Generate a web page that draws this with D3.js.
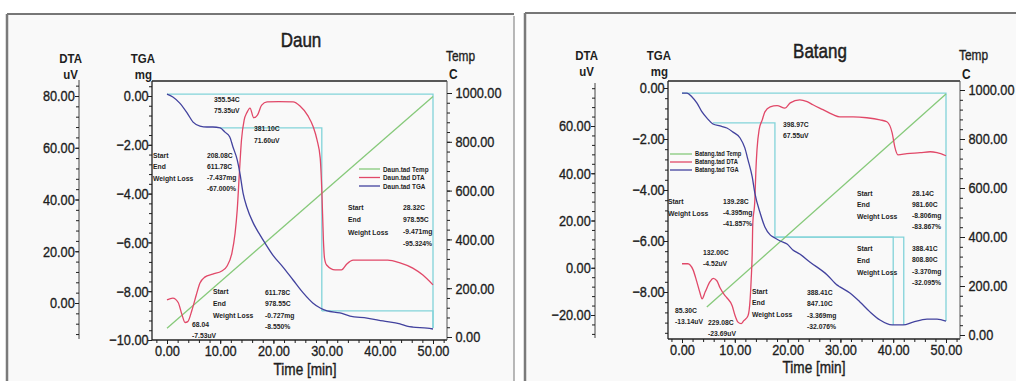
<!DOCTYPE html>
<html>
<head>
<meta charset="utf-8">
<script src="https://cdn.jsdelivr.net/npm/d3@7"></script>
<style>
  html, body { margin: 0; padding: 0; background: #ffffff; }
  svg { display: block; }
</style>
</head>
<body>
<svg id="chart" width="1016" height="381"></svg>
<script>
// ---------- tick values ----------
const timeTicks = [0, 10, 20, 30, 40, 50];
const tempTicks = [0, 200, 400, 600, 800, 1000];
const daunDtaTicks = [0, 20, 40, 60, 80];
const daunTgaTicks = [-10, -8, -6, -4, -2, 0];
const batangDtaTicks = [-20, 0, 20, 40, 60];
const batangTgaTicks = [-8, -6, -4, -2, 0];

// ---------- Daun: [time min, value] ----------
const daunTemp = [[0, 36], [50, 986]];
const daunDTA = [
  [0, 1.2], [1.1, 1.9], [2.1, 0.2], [2.8, -4.4], [3.4, -7.53], [3.9, -7.2], [4.7, -2.7],
  [5.5, 3.1], [6.2, 7.7], [7.1, 10.0], [8.6, 11.2], [10.3, 12.4], [11.3, 14.3], [12.2, 19.3],
  [12.8, 27.0], [13.2, 36.0], [13.6, 50.0], [14.0, 63.0], [14.5, 70.7], [15.0, 73.5],
  [15.6, 75.35], [16.3, 71.6], [17.0, 72.6], [17.8, 76.5], [18.8, 77.7], [21.0, 77.8],
  [23.7, 77.7], [25.0, 76.1], [26.5, 72.3], [27.5, 68.0], [28.2, 63.0], [28.8, 56.0],
  [29.1, 43.7], [29.4, 24.3], [29.6, 17.4], [30.0, 14.7], [31.6, 12.8], [32.8, 12.8],
  [33.8, 15.1], [35.0, 16.6], [38.8, 16.6], [41.5, 16.6], [43.8, 15.5], [46.2, 13.5],
  [48.1, 10.8], [50, 7.0]
];
const daunTGA = [
  [0, 0.08], [1.1, -0.04], [2.4, -0.29], [3.8, -0.70], [4.9, -1.07], [6.2, -1.23],
  [7.5, -1.27], [8.6, -1.27], [10.0, -1.31], [10.9, -1.48], [11.8, -1.68], [12.4, -2.09],
  [13.2, -2.62], [13.7, -3.16], [14.3, -3.98], [15.0, -4.55], [16.2, -5.20], [17.5, -5.70],
  [18.4, -6.02], [19.9, -6.52], [21.8, -7.01], [23.7, -7.54], [25.6, -8.07], [27.4, -8.48],
  [28.8, -8.69], [30.1, -8.81], [32.5, -8.89], [34.4, -9.02], [37.6, -9.10], [40.6, -9.22],
  [43.8, -9.34], [45.1, -9.43], [46.2, -9.47], [48.9, -9.51], [50, -9.55]
];
// weight-loss steps: [start min, end min, start mg, end mg]
const daunSteps = [[0, 50, 0.08, -9.51], [9.96, 29.1, -1.31, -8.81], [29.1, 50, -8.81, -9.51]];

// ---------- Batang: [time min, value] ----------
const batangTemp = [[4.7, 114], [50, 984]];
const batangDTA = [
  [0, 1.7], [1.1, 1.7], [2.1, -0.9], [2.8, -5.9], [3.4, -10.6], [3.8, -13.14], [4.4, -10.2],
  [5.3, -5.9], [5.9, -4.52], [6.6, -5.5], [7.2, -8.5], [8.0, -11.4], [8.5, -12.7],
  [9.5, -16.1], [10.0, -19.9], [10.6, -23.0], [11.2, -23.69], [11.7, -22.4], [12.5, -20.3],
  [12.9, -13.5], [13.1, -5.1], [13.3, 6.3], [13.4, 18.2], [13.8, 28.8], [14.0, 41.5],
  [14.2, 49.9], [14.6, 58.4], [15.2, 62.6], [15.7, 66.0], [16.7, 68.1], [18.0, 68.6],
  [19.5, 67.55], [20.5, 69.8], [22.3, 71.1], [23.7, 70.3], [24.8, 69.0], [26.7, 66.9],
  [28.6, 64.8], [29.9, 63.9], [32.4, 63.9], [35.0, 63.5], [37.5, 62.6], [38.8, 61.8],
  [39.8, 57.1], [40.3, 51.2], [40.9, 47.8], [42.6, 48.3], [45.1, 48.7], [47.0, 49.1],
  [48.3, 48.7], [50, 47.4]
];
const batangTGA = [
  [0, -0.20], [0.95, -0.20], [1.9, -0.35], [2.84, -0.59], [3.79, -0.94], [4.73, -1.18],
  [5.87, -1.41], [7.2, -1.49], [8.5, -1.57], [9.66, -1.73], [11.0, -1.96], [11.9, -2.35],
  [12.5, -2.82], [13.3, -3.49], [13.8, -4.12], [14.8, -4.90], [15.7, -5.45], [16.7, -5.76],
  [17.6, -5.88], [18.6, -6.00], [19.9, -6.12], [21.0, -6.35], [22.3, -6.51], [24.2, -6.82],
  [27.5, -7.33], [29.4, -7.73], [29.9, -7.80], [31.8, -8.04], [33.7, -8.39], [35.6, -8.78],
  [37.5, -9.10], [39.8, -9.29], [41.9, -9.29], [43.75, -9.18], [46.4, -9.06], [48.3, -9.06],
  [50, -9.14]
];
const batangSteps = [
  [0, 50, -0.2, -9.14], [5.87, 17.6, -1.37, -5.85], [17.6, 42.0, -5.85, -9.29], [17.6, 40.0, -5.85, -9.29]
];

// ---------- styling ----------
const FONT = "'Liberation Sans', Arial, Helvetica, sans-serif";
const INK = "#1e1e1e";
const C_TEMP = "#86c97a", C_DTA = "#e14868", C_TGA = "#42429e", C_STEP = "#82d3d9";
const SX = 0.85;          // horizontal text squeeze
const fmt = d3.format(".2f");

const svg = d3.select("#chart");

function label(g, x, y, str, o = {}) {
  return g.append("text")
    .attr("transform", `translate(${x},${y}) scale(${o.sx ?? SX},1)`)
    .attr("dy", "0.35em")
    .attr("text-anchor", o.anchor || "start")
    .attr("font-family", FONT)
    .attr("font-size", o.size || 8)
    .attr("font-weight", o.weight || "bold")
    .attr("fill", o.fill || INK)
    .attr("stroke", o.thick ? INK : "none")
    .attr("stroke-width", o.thick || 0)
    .text(str);
}

function noteBlock(g, x, y, lines, gap) {
  lines.forEach((s, i) => label(g, x, y + i * gap, s));
}

function styleAxis(sel, size) {
  sel.attr("font-family", FONT).attr("font-size", size).attr("color", INK);
  sel.select(".domain").remove();
  sel.selectAll("text").attr("transform", `scale(${SX},1)`).attr("fill", INK)
    .attr("stroke", INK).attr("stroke-width", 0.35);
  sel.selectAll("line").attr("stroke-width", 1);
}

function minorRange(scale, step, lo, hi) {
  const a = scale.invert(lo), b = scale.invert(hi);
  const mn = Math.min(a, b), mx = Math.max(a, b);
  return d3.range(Math.ceil(mn / step - 1e-9) * step, mx + 1e-9, step)
    .map(v => +v.toFixed(4));
}

function drawPanel(p) {
  const g = svg.append("g");
  const { left, right, top, bottom } = p.box;

  // frame
  g.append("rect").attr("x", p.frame.x).attr("y", p.frame.y)
    .attr("width", p.frame.w).attr("height", 400)
    .attr("fill", "#f9f9f9").attr("stroke", "none");
  g.append("line").attr("x1", p.frame.x).attr("x2", p.frame.x + p.frame.w)
    .attr("y1", p.frame.y).attr("y2", p.frame.y).attr("stroke", "#4a4a4a").attr("stroke-width", 1.5);
  g.append("line").attr("x1", p.frame.x).attr("x2", p.frame.x)
    .attr("y1", p.frame.y).attr("y2", 381).attr("stroke", "#7a7a7a").attr("stroke-width", 2.5);
  if (p.frame.rightEdge)
    g.append("line").attr("x1", p.frame.x + p.frame.w).attr("x2", p.frame.x + p.frame.w)
      .attr("y1", p.frame.y + 2).attr("y2", 381).attr("stroke", "#8a8a8a").attr("stroke-width", 1.2);

  const x = d3.scaleLinear([0, 50], p.xRange);
  const dta = d3.scaleLinear(p.dtaDomain, p.dtaRange);
  const tga = d3.scaleLinear(p.tgaDomain, p.tgaRange);
  const temp = d3.scaleLinear([0, 1000], p.tempRange);

  // weight-loss step brackets
  p.steps.forEach(([t0, t1, w0, w1]) => {
    g.append("path")
      .attr("d", `M${x(t0)},${tga(w0)}H${x(t1)}V${tga(w1)}`)
      .attr("fill", "none").attr("stroke", C_STEP).attr("stroke-width", 1.3);
  });

  // curves
  const curve = (ys) => d3.line().x(d => x(d[0])).y(d => ys(d[1])).curve(d3.curveMonotoneX);
  g.append("path").datum(p.temp).attr("d", curve(temp))
    .attr("fill", "none").attr("stroke", C_TEMP).attr("stroke-width", 1.3);
  g.append("path").datum(p.dta).attr("d", curve(dta))
    .attr("fill", "none").attr("stroke", C_DTA).attr("stroke-width", 1.3);
  g.append("path").datum(p.tga).attr("d", curve(tga))
    .attr("fill", "none").attr("stroke", C_TGA).attr("stroke-width", 1.3);

  // plot box lines
  g.append("line").attr("x1", left).attr("x2", right).attr("y1", top).attr("y2", top)
    .attr("stroke", "#222").attr("stroke-width", 1.3);
  g.append("line").attr("x1", left).attr("x2", right).attr("y1", bottom).attr("y2", bottom)
    .attr("stroke", "#222").attr("stroke-width", 1.3);
  g.append("line").attr("x1", left).attr("x2", left).attr("y1", top).attr("y2", bottom)
    .attr("stroke", "#222").attr("stroke-width", 1.3);
  g.append("line").attr("x1", right).attr("x2", right).attr("y1", top).attr("y2", bottom)
    .attr("stroke", "#555").attr("stroke-width", 1);
  g.append("line").attr("x1", p.dtaX).attr("x2", p.dtaX).attr("y1", p.dtaTop).attr("y2", bottom - 1)
    .attr("stroke", "#444").attr("stroke-width", 1);

  // x axis
  g.append("g").attr("transform", `translate(0,${bottom})`)
    .call(d3.axisBottom(x).tickValues(minorRange(x, 2, left, right)).tickSize(3).tickFormat(""))
    .call(s => styleAxis(s, 15));
  g.append("g").attr("transform", `translate(0,${bottom})`)
    .call(d3.axisBottom(x).tickValues(timeTicks).tickSize(4).tickPadding(1).tickFormat(fmt))
    .call(s => styleAxis(s, 15));

  // DTA axis
  g.append("g").attr("transform", `translate(${p.dtaX},0)`)
    .call(d3.axisLeft(dta).tickValues(minorRange(dta, 4, bottom, p.dtaTop)).tickSize(3).tickFormat(""))
    .call(s => styleAxis(s, 15));
  g.append("g").attr("transform", `translate(${p.dtaX},0)`)
    .call(d3.axisLeft(dta).tickValues(p.dtaTicks).tickSize(4).tickPadding(1).tickFormat(fmt))
    .call(s => styleAxis(s, 15));

  // TGA axis
  g.append("g").attr("transform", `translate(${left},0)`)
    .call(d3.axisLeft(tga).tickValues(minorRange(tga, 0.4, bottom, top)).tickSize(3).tickFormat(""))
    .call(s => styleAxis(s, 15));
  g.append("g").attr("transform", `translate(${left},0)`)
    .call(d3.axisLeft(tga).tickValues(p.tgaTicks).tickSize(4).tickPadding(0).tickFormat(fmt))
    .call(s => styleAxis(s, 15));

  // Temp axis
  g.append("g").attr("transform", `translate(${right},0)`)
    .call(d3.axisRight(temp).tickValues(minorRange(temp, 40, bottom, top + 4)).tickSize(3).tickFormat(""))
    .call(s => styleAxis(s, 15));
  g.append("g").attr("transform", `translate(${right},0)`)
    .call(d3.axisRight(temp).tickValues(tempTicks).tickSize(5).tickPadding(5).tickFormat(fmt))
    .call(s => styleAxis(s, 15));

  // axis titles
  const hy = top + p.headDy;
  label(g, p.dtaX + 3, hy - 24, "DTA", { size: 13.5, anchor: "end" });
  label(g, p.dtaX - 1, hy - 8, "uV", { size: 13.5, anchor: "end" });
  label(g, left + 3, hy - 24, "TGA", { size: 13.5, anchor: "end" });
  label(g, left, hy - 8, "mg", { size: 13.5, anchor: "end" });
  label(g, right - 1, top - 26 + p.tempDy, "Temp", { size: 14, weight: "normal", thick: 0.35 });
  label(g, right + 2, top - 7, "C", { size: 14 });
  label(g, p.titleX, p.titleY, p.title, { size: 20, anchor: "middle", weight: "normal", thick: 0.5 });
  label(g, (x(0) + x(50)) / 2 + p.timeDx, p.timeY, "Time  [min]",
    { size: 16, anchor: "middle", weight: "normal", thick: 0.4 });

  // legend
  const legend = [[p.name + " Temp", C_TEMP], [p.name + " DTA", C_DTA], [p.name + " TGA", C_TGA]];
  legend.forEach(([txt, col], i) => {
    const ly = p.legend.y + i * p.legend.gap;
    g.append("line").attr("x1", p.legend.x).attr("x2", p.legend.x + p.legend.len)
      .attr("y1", ly).attr("y2", ly).attr("stroke", col).attr("stroke-width", 1.3);
    label(g, p.legend.x + p.legend.len + 3, ly, txt, { size: p.legend.size });
  });

  return { g, x, dta, tga, temp };
}

// ---------- Daun ----------
const daun = drawPanel({
  name: "Daun.tad", title: "Daun", titleX: 301, titleY: 40,
  frame: { x: 7, y: 14, w: 507, rightEdge: true },
  box: { left: 152, right: 447, top: 81, bottom: 340 },
  xRange: [167, 433],
  dtaX: 79, dtaTop: 80, dtaDomain: [0, 80], dtaRange: [303, 96], dtaTicks: daunDtaTicks,
  tgaDomain: [-10, 0], tgaRange: [340, 96], tgaTicks: daunTgaTicks,
  tempRange: [337, 93], tempDy: 1, headDy: 1,
  timeDx: 5, timeY: 369,
  legend: { x: 359, y: 169, gap: 8.5, len: 21, size: 7.5 },
  temp: daunTemp, dta: daunDTA, tga: daunTGA, steps: daunSteps
});
noteBlock(daun.g, 214, 99, ["355.54C", "75.35uV"], 11);
noteBlock(daun.g, 254, 128, ["381.10C", "71.60uV"], 12);
noteBlock(daun.g, 153, 155, ["Start", "End", "Weight Loss"], 11.5);
noteBlock(daun.g, 207, 155, ["208.08C", "611.78C", "-7.437mg", "-67.000%"], 11);
noteBlock(daun.g, 348, 207, ["Start", "End", "Weight Loss"], 12.5);
noteBlock(daun.g, 403, 207, ["28.32C", "978.55C", "-9.471mg", "-95.324%"], 12);
noteBlock(daun.g, 213, 291, ["Start", "End", "Weight Loss"], 12);
noteBlock(daun.g, 265, 292, ["611.78C", "978.55C", "-0.727mg", "-8.550%"], 11.5);
noteBlock(daun.g, 192, 324, ["68.04", "-7.53uV"], 11.5);

// ---------- Batang ----------
const batang = drawPanel({
  name: "Batang.tad", title: "Batang", titleX: 820, titleY: 51,
  frame: { x: 525, y: 13, w: 500, rightEdge: false },
  box: { left: 668, right: 960, top: 81, bottom: 339 },
  xRange: [682, 946],
  dtaX: 595, dtaTop: 83, dtaDomain: [-20, 60], dtaRange: [315, 126], dtaTicks: batangDtaTicks,
  tgaDomain: [-8, 0], tgaRange: [292, 88], tgaTicks: batangTgaTicks,
  tempRange: [335, 90], tempDy: 0, headDy: -2,
  timeDx: 0, timeY: 367,
  legend: { x: 670, y: 154, gap: 8, len: 22, size: 6.8 },
  temp: batangTemp, dta: batangDTA, tga: batangTGA, steps: batangSteps
});
noteBlock(batang.g, 668, 201, ["Start", "Weight Loss"], 12);
noteBlock(batang.g, 723, 201, ["139.28C", "-4.395mg", "-41.857%"], 11);
noteBlock(batang.g, 783, 124, ["398.97C", "67.55uV"], 11);
noteBlock(batang.g, 703, 252, ["132.00C", "-4.52uV"], 11);
noteBlock(batang.g, 675, 310, ["85.30C", "-13.14uV"], 11);
noteBlock(batang.g, 708, 322, ["229.08C", "-23.69uV"], 11);
noteBlock(batang.g, 752, 291, ["Start", "End", "Weight Loss"], 11.5);
noteBlock(batang.g, 807, 292, ["388.41C", "847.10C", "-3.369mg", "-32.076%"], 11.5);
noteBlock(batang.g, 857, 193, ["Start", "End", "Weight Loss"], 11.5);
noteBlock(batang.g, 912, 193, ["28.14C", "981.60C", "-8.806mg", "-83.867%"], 11);
noteBlock(batang.g, 857, 248, ["Start", "End", "Weight Loss"], 12);
noteBlock(batang.g, 912, 248, ["388.41C", "808.80C", "-3.370mg", "-32.095%"], 11.5);
</script>
</body>
</html>
